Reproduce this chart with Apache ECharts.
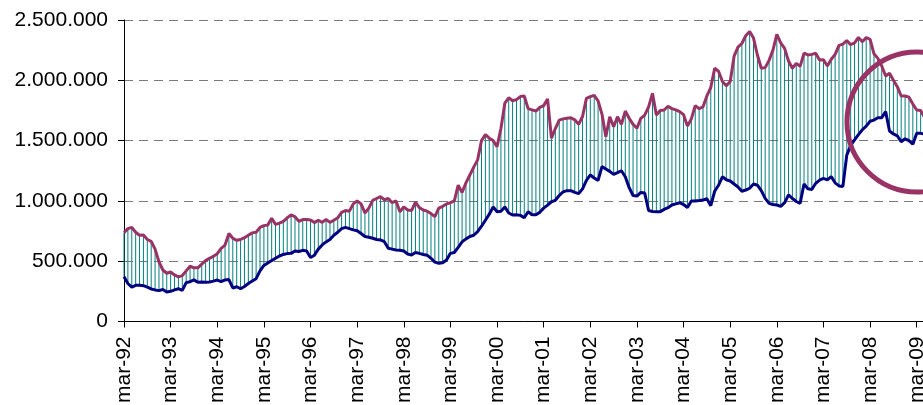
<!DOCTYPE html>
<html>
<head>
<meta charset="utf-8">
<script src="https://cdn.jsdelivr.net/npm/echarts@6/dist/echarts.min.js"></script>
<style>
  html, body { margin: 0; padding: 0; background: #fff; }
  #chart { width: 923px; height: 405px; }
</style>
</head>
<body>
<div id="chart"></div>
<script>
// Monthly series from mar-92, values in thousands
const startYear = 1992;
const startMonth = 2; // March (0-based)
const monthNames = ['jan','feb','mar','apr','maj','jun','jul','aug','sep','okt','nov','dec'];

const upperValues = [
  736,770,781,740,715,718,680,665,600,495,427,400,
  410,386,370,380,420,458,445,445,475,505,524,540,
  562,607,634,730,690,673,680,695,715,735,740,780,
  795,800,856,805,815,830,860,883,870,830,845,845,
  842,820,840,822,845,822,840,860,905,920,915,975,
  1000,975,900,940,1005,1020,1035,1010,1020,985,1000,910,
  950,925,920,990,945,925,915,895,870,940,955,975,
  985,1000,1130,1070,1150,1215,1280,1340,1500,1550,1520,1500,
  1450,1600,1810,1855,1830,1840,1865,1870,1765,1755,1745,1775,
  1790,1845,1520,1600,1670,1680,1685,1690,1672,1635,1700,1850,
  1865,1875,1830,1720,1532,1698,1615,1698,1635,1745,1685,1635,
  1602,1685,1712,1780,1892,1712,1750,1754,1785,1765,1755,1740,
  1715,1620,1680,1790,1765,1780,1870,1940,2100,2075,1990,1955,
  1990,2200,2275,2305,2370,2405,2350,2210,2100,2105,2165,2250,
  2380,2310,2265,2160,2100,2140,2115,2225,2210,2215,2224,2169,
  2170,2119,2175,2215,2290,2300,2330,2295,2310,2355,2320,2355,
  2340,2220,2182,2119,2036,2058,2000,1947,1870,1870,1860,1803,
  1754,1750,1693
];

const lowerValues = [
  371,315,285,300,300,297,285,270,262,256,265,245,
  250,262,272,258,322,330,345,325,328,325,328,335,
  344,330,345,348,278,288,272,290,315,335,355,420,
  465,485,505,524,543,556,563,565,585,580,590,585,
  530,550,600,635,660,680,715,740,770,780,770,760,
  752,730,705,698,690,680,676,662,607,600,593,590,
  585,560,552,572,565,556,550,524,492,483,487,510,
  565,572,615,660,685,705,715,745,790,840,890,950,
  910,915,950,900,883,885,880,860,910,885,885,905,
  940,965,993,1005,1045,1075,1085,1085,1071,1060,1100,1170,
  1215,1190,1170,1284,1265,1245,1220,1235,1250,1200,1110,1045,
  1040,1070,1065,920,912,911,911,930,944,966,975,985,
  970,945,1000,1000,1003,1007,1018,960,1080,1130,1200,1175,
  1165,1140,1115,1080,1090,1105,1140,1130,1085,1021,980,970,
  966,955,985,1050,1020,995,980,1140,1100,1095,1146,1173,
  1187,1175,1201,1150,1124,1120,1380,1460,1505,1550,1590,1620,
  1660,1670,1690,1690,1740,1580,1555,1540,1490,1515,1500,1470,
  1560,1560,1555
];

const yTickValues = [0, 500, 1000, 1500, 2000, 2500];
const yTickLabels = ['0', '500.000', '1.000.000', '1.500.000', '2.000.000', '2.500.000'];

const categories = [];
for (let k = 0; k < upperValues.length; k++) {
  const m = (startMonth + k) % 12;
  const y = startYear + Math.floor((startMonth + k) / 12);
  categories.push(monthNames[m] + '-' + String(y % 100).padStart(2, '0'));
}

const hiLoData = upperValues.map((u, k) => [k, lowerValues[k], u]);

const FONT = '"Liberation Sans", Arial, sans-serif';
const chart = echarts.init(document.getElementById('chart'), null, { renderer: 'canvas' });

chart.setOption({
  animation: false,
  backgroundColor: '#ffffff',
  grid: {
    left: 124, top: 20, width: 800.5, height: 301.5,
    containLabel: false, outerBoundsMode: 'none'
  },
  xAxis: {
    type: 'category',
    data: categories,
    boundaryGap: false,
    axisLine: { show: true, lineStyle: { color: '#000', width: 1 } },
    axisTick: { show: true, interval: 11, length: 6, inside: false, lineStyle: { color: '#000', width: 1 } },
    axisLabel: {
      interval: 11, rotate: 90, margin: 15,
      color: '#000', fontSize: 21, fontFamily: FONT,
      hideOverlap: false
    },
    splitLine: { show: false }
  },
  yAxis: {
    type: 'value',
    min: 0, max: 2500, interval: 500,
    axisLine: { show: true, lineStyle: { color: '#000', width: 1 } },
    axisTick: { show: true, length: 6, lineStyle: { color: '#000', width: 1 } },
    axisLabel: {
      margin: 16, color: '#000', fontSize: 21, fontFamily: FONT,
      formatter: function (v) {
        const idx = yTickValues.indexOf(v);
        return idx >= 0 ? yTickLabels[idx] : '';
      }
    },
    splitLine: { show: true, lineStyle: { color: '#7a7a7a', width: 1, type: [9, 6] } }
  },
  series: [
    {
      type: 'custom',
      data: hiLoData,
      encode: { x: 0, y: [1, 2] },
      z: 1,
      renderItem: function (params, api) {
        const x = api.value(0);
        const p1 = api.coord([x, api.value(1)]);
        const p2 = api.coord([x, api.value(2)]);
        return {
          type: 'line',
          shape: { x1: p1[0], y1: p1[1], x2: p2[0], y2: p2[1] },
          style: { stroke: '#008080', lineWidth: 1 }
        };
      }
    },
    {
      type: 'line',
      data: upperValues,
      symbol: 'none',
      z: 3,
      lineStyle: { color: '#993366', width: 3 },
      itemStyle: { color: '#993366' }
    },
    {
      type: 'line',
      data: lowerValues,
      symbol: 'none',
      z: 3,
      lineStyle: { color: '#000080', width: 3 },
      itemStyle: { color: '#000080' }
    }
  ],
  graphic: [
    {
      type: 'circle',
      shape: { cx: 917, cy: 122, r: 70 },
      style: { fill: 'none', stroke: '#993366', lineWidth: 5 },
      z: 100
    }
  ]
});
</script>
</body>
</html>
